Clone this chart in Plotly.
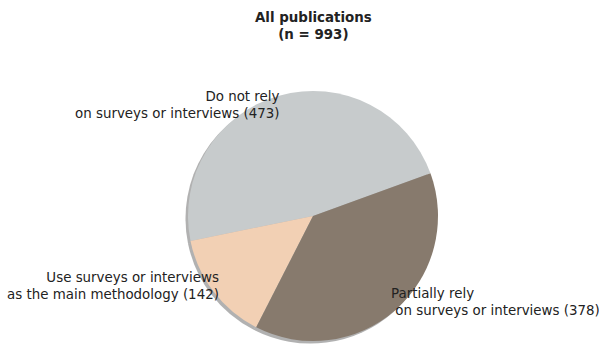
import math
import plotly.graph_objects as go

# Data
labels = ["Do not rely<br>on surveys or interviews (473)",
          "Use surveys or interviews<br>as the main methodology (142)",
          "Partially rely<br> on surveys or interviews (378)"]
values = [473, 142, 378]
colors = ["#c7cbcc", "#f2d0b4", "#877a6d"]
title_lines = ["All publications", "(n = 993)"]

W, H = 599, 347
CX, CY, R = 313, 216, 125          # pie centre / radius in pixels
START = 20                         # start angle (deg, counterclockwise from east)
LABEL_DIST = 0.92
SHADOW = 2.5                       # shadow offset, px (left-down)
FS = 13.4

total = sum(values)
# plotly (counterclockwise mode): rotation marks the END of the first slice,
# measured clockwise from 12 o'clock
rotation = (90 - START) - 360 * values[0] / total

def dom(cx, cy):
    return dict(x=[(cx - R) / W, (cx + R) / W],
                y=[1 - (cy + R) / H, 1 - (cy - R) / H])

fig = go.Figure()
# shadow
fig.add_trace(go.Pie(values=values, sort=False, direction="counterclockwise",
                     rotation=rotation, domain=dom(CX - SHADOW, CY + SHADOW),
                     marker=dict(colors=["rgba(60,60,60,0.4)"] * 3, line=dict(width=0)),
                     textinfo="none", hoverinfo="skip", showlegend=False))
fig.add_trace(go.Pie(values=values, labels=[l.replace("<br>", " ") for l in labels],
                     sort=False, direction="counterclockwise",
                     rotation=rotation, domain=dom(CX, CY),
                     marker=dict(colors=colors, line=dict(width=0)),
                     textinfo="none", showlegend=False))

ang = START
for lab, v in zip(labels, values):
    span = 360 * v / total
    mid = math.radians(ang + span / 2)
    ang += span
    px = CX + LABEL_DIST * R * math.cos(mid)
    py = CY - LABEL_DIST * R * math.sin(mid)
    left = math.cos(mid) < 0
    fig.add_annotation(x=px / W, y=1 - py / H, xref="paper", yref="paper",
                       text=lab, showarrow=False,
                       xanchor="right" if left else "left", yanchor="middle",
                       align="right" if left else "left",
                       font=dict(family="DejaVu Sans", size=FS, color="#222"))

fig.add_annotation(x=CX / W, y=1 - 26 / H, xref="paper", yref="paper",
                   text="<b>" + "<br>".join(title_lines) + "</b>", showarrow=False,
                   xanchor="center", yanchor="middle", align="center",
                   font=dict(family="DejaVu Sans", size=FS, color="#222"))

fig.update_layout(width=W, height=H, margin=dict(l=0, r=0, t=0, b=0),
                  paper_bgcolor="white", plot_bgcolor="white", showlegend=False)
fig.write_html("out.html")
